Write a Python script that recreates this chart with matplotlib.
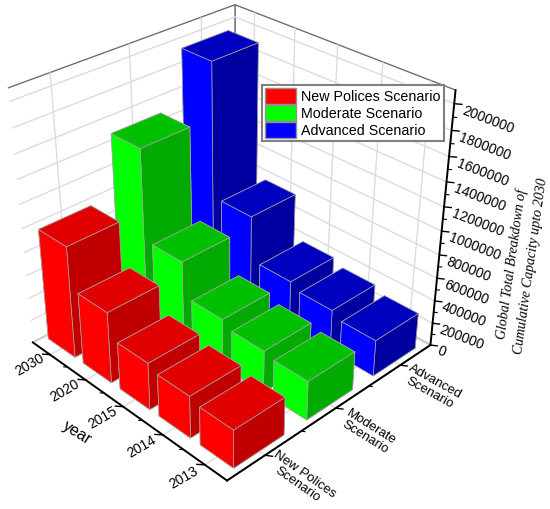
import numpy as np, matplotlib
matplotlib.use('Agg')
import matplotlib.pyplot as plt
from matplotlib.patches import Patch
from mpl_toolkits.mplot3d import proj3d

years = ['2013', '2014', '2015', '2020', '2030']
scenarios = ['New Polices\nScenario', 'Moderate\nScenario', 'Advanced\nScenario']
legend_names = ['New Polices Scenario', 'Moderate Scenario', 'Advanced Scenario']
new_policies = [325000, 360000, 405000, 615000, 965000]
moderate = [335000, 365000, 420000, 715000, 1480000]
advanced = [315000, 365000, 415000, 800000, 1935000]
z_ticks = [0, 200000, 400000, 600000, 800000, 1000000, 1200000, 1400000, 1600000, 1800000, 2000000]
bright = ['#ff0000', '#00ff00', '#0000ff']
top = ['#e00000', '#00c000', '#0000c0']
dark = ['#c00000', '#00aa00', '#0000a0']

W, H = 550, 509
plt.rcParams['font.family'] = ['Liberation Sans', 'DejaVu Sans']
fig = plt.figure(figsize=(5.5, 5.09), dpi=100)
L = 500.4
ax = fig.add_axes([(224.6 - L / 2) / W, (278.3 - L / 2) / H, L / W, L / H], projection='3d')
ax.patch.set_alpha(0)
ax.view_init(elev=31.349, azim=-134.145)
ax.set_proj_type('persp', focal_length=0.482)
ax.set_box_aspect((1.006, 0.998, 1), zoom=1)
ax.computed_zorder = False

xlo, xhi, ylo, yhi = 0.5, 3.5, -0.5, 4.5
ax.set_xlim(xlo, xhi)
ax.set_ylim(ylo, yhi)
ax.set_zlim(0, 2100000)

series = [new_policies, moderate, advanced]
bw, bd = 0.68, 0.77
for i in (2, 1, 0):
    for j in (4, 3, 2, 1, 0):
        h = series[i][j]
        # face order: bottom, top, -y, +y, -x, +x
        cols = [dark[i], top[i], dark[i], dark[i], bright[i], dark[i]]
        ax.bar3d(i + 1 - bw / 2, j + 0.015 - bd / 2, 0, bw, bd, h, color=cols, shade=False,
                 edgecolor='#a8a8a8', linewidth=0.5, zorder=100 - (i * 5 + j))

ax.set_xticks([1, 2, 3], ['', '', ''])
ax.set_yticks(range(5), [''] * 5)
ax.set_zticks(z_ticks, [''] * len(z_ticks))
ax.zaxis.set_ticks_position('lower')

for axis in (ax.xaxis, ax.yaxis, ax.zaxis):
    axis.set_pane_color((1, 1, 1, 1))
    axis.pane.set_edgecolor('#707070')
    axis.pane.set_linewidth(1.0)
    axis.line.set_color('black')
    axis.line.set_linewidth(1.4)
    axis._axinfo['grid'].update(color='#dcdcdc', linewidth=1.0)
    axis._axinfo['tick'].update(inward_factor=0.0, outward_factor=0.0, linewidth={True: 0, False: 0})
ax.grid(True)


def tick(x, y, z, dx, dy, lw):
    ax.plot([x, x + dx], [y, y + dy], [z, z], color='k', lw=lw, zorder=1)


# tick marks: major, then minor at half length
for k in range(3):
    tick(k + 1, ylo, 0, 0.04, -0.10, 1.0)
for v in (1.5, 2.5):
    tick(v, ylo, 0, 0.02, -0.05, 0.8)
for j in range(5):
    tick(xlo, j, 0, -0.05, 0.10, 1.0)
for v in (0.5, 1.5, 2.5, 3.5):
    tick(xlo, v, 0, -0.025, 0.05, 0.8)
for v in z_ticks:
    tick(xhi, ylo, v, 0.04, -0.10, 1.0)
for a, b in zip(z_ticks[:-1], z_ticks[1:]):
    tick(xhi, ylo, (a + b) / 2, 0.02, -0.05, 0.8)

M = ax.get_proj()


def label3d(x, y, z, s, **kw):
    u, v, _ = proj3d.proj_transform(x, y, z, M)
    fig.text(u, v, s, transform=ax.transData, rotation_mode='anchor', **kw)


# tick labels
for k, (t, r) in enumerate(zip(scenarios, (-35, -32, -29))):
    label3d(k + (1.0 if k == 0 else 0.95), -1.28, 0, t, fontsize=9.5, rotation=r, ha='center',
            va='center', multialignment='center', linespacing=1.05)
for j, t in enumerate(years):
    label3d(0.24, j + 0.01, 0, t, fontsize=10, rotation=30, ha='center', va='center')
for v in z_ticks:
    label3d(xhi + 0.06, ylo - 0.1, v - 50000, str(v), fontsize=10, rotation=-21, ha='left',
            va='center')

fig.text(77 / W, 1 - 433 / H, 'year', fontsize=11.5, rotation=-32, ha='center', va='center')
fig.text(521 / W, 1 - 265 / H, 'Global Total Breakdown of\nCumulative Capacity upto 2030',
         fontsize=10, rotation=82, ha='center', va='center', linespacing=1.6,
         rotation_mode='anchor', family='Liberation Serif', style='italic')

handles = [Patch(facecolor=c, edgecolor='#909090') for c in bright]
leg = fig.legend(handles, legend_names, loc='upper left', bbox_to_anchor=(262 / W, 1 - 85 / H),
                 fontsize=10.3, frameon=True, fancybox=False, edgecolor='#808080', framealpha=1,
                 borderpad=0.2, borderaxespad=0, handlelength=2.2, handleheight=1.32,
                 handletextpad=0.35, labelspacing=0.1)
leg.get_frame().set_linewidth(1.5)

fig.savefig('out.png', dpi=100)
